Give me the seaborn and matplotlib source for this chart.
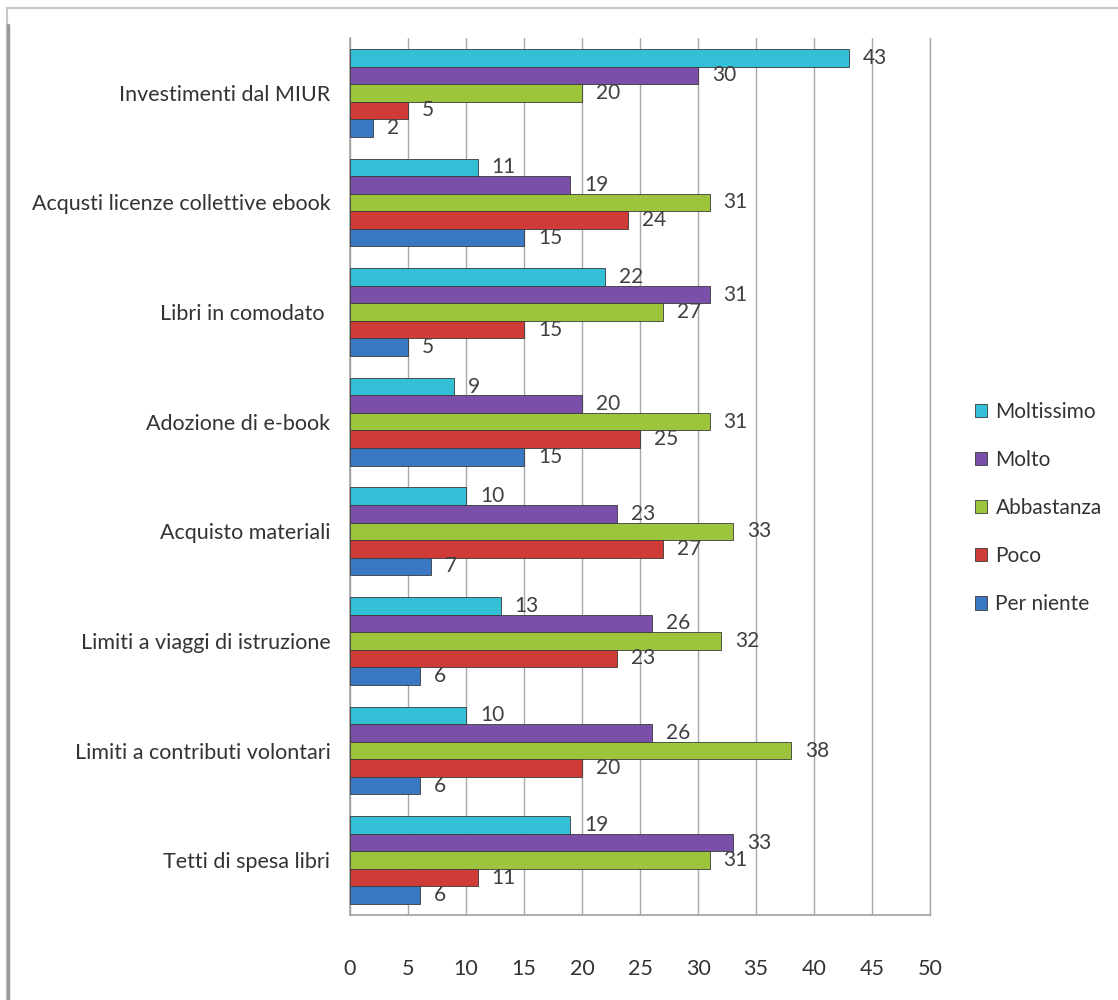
import pandas as pd
import numpy as np
import matplotlib.pyplot as plt
import seaborn as sns
from matplotlib.patches import Rectangle

categories = ["Investimenti dal MIUR", "Acqusti licenze collettive ebook", "Libri in comodato ",
              "Adozione di e-book", "Acquisto materiali", "Limiti a viaggi di istruzione",
              "Limiti a contributi volontari", "Tetti di spesa libri"]
levels = ["Moltissimo", "Molto", "Abbastanza", "Poco", "Per niente"]
moltissimo = [43, 11, 22, 9, 10, 13, 10, 19]
molto = [30, 19, 31, 20, 23, 26, 26, 33]
abbastanza = [20, 31, 27, 31, 33, 32, 38, 31]
poco = [5, 24, 15, 25, 27, 23, 20, 11]
per_niente = [2, 15, 5, 15, 7, 6, 6, 6]
x_ticks = [0, 5, 10, 15, 20, 25, 30, 35, 40, 45, 50]

palette = ["#33bfd6", "#7a4fa8", "#9cc43c", "#cf3b37", "#3b78c4"]

# long-form table for seaborn
series = [moltissimo, molto, abbastanza, poco, per_niente]
df = pd.DataFrame({
    "categoria": categories * len(levels),
    "livello": np.repeat(levels, len(categories)),
    "valore": np.concatenate(series),
})

sns.set_style("white")
plt.rcParams["font.family"] = ["Lato", "DejaVu Sans"]

fig = plt.figure(figsize=(11.18, 10), dpi=100)
ax = fig.add_axes([0.313, 0.085, 0.519, 0.877])

sns.barplot(data=df, y="categoria", x="valore", hue="livello", hue_order=levels,
            order=categories, palette=palette, orient="h", width=0.8,
            saturation=1, edgecolor="#3a3a3a", linewidth=0.6, ax=ax, zorder=3)

for cont in ax.containers:
    ax.bar_label(cont, padding=10, fontsize=15, color="#404040")

ax.set_xlim(0, 50)
ax.set_xticks(x_ticks)
ax.set_ylim(len(categories) - 0.5, -0.5)
ax.set_xlabel("")
ax.set_ylabel("")
ax.grid(axis="x", color="#a8a8a8", linewidth=1, zorder=0)
ax.set_axisbelow(True)

# y ticks at the boundaries between groups, labels centered
ax.set_yticks(np.arange(len(categories)))
ax.set_yticklabels(categories)
ax.set_yticks(np.arange(-0.5, len(categories)), minor=True)
ax.tick_params(axis="y", which="major", length=0, pad=14, labelsize=15.5, labelcolor="#333333")
ax.tick_params(axis="y", which="minor", length=6, color="#999999", width=1)
ax.tick_params(axis="x", length=6, color="#999999", pad=26, labelsize=15.5, labelcolor="#333333")

ax.spines["top"].set_visible(False)
ax.spines["right"].set_color("#a8a8a8")
ax.spines["right"].set_linewidth(1)
for s in ["left", "bottom"]:
    ax.spines[s].set_color("#a0a0a0")
    ax.spines[s].set_linewidth(1.2)

leg = ax.legend(loc="center left", bbox_to_anchor=(0.855, 0.492), bbox_transform=fig.transFigure,
                frameon=False, fontsize=15, handlelength=0.6, handleheight=0.6,
                labelspacing=1.35, handletextpad=0.4)
for t in leg.get_texts():
    t.set_color("#333333")

# outer chart frame
fig.patches.append(Rectangle((0.006, -0.01), 1.0, 1.002, transform=fig.transFigure,
                             fill=False, edgecolor="#c8c8c8", linewidth=1.5))
fig.lines.append(plt.Line2D([0.007, 0.007], [0.0, 0.975], transform=fig.transFigure,
                            color="#9a9a9a", linewidth=2.5))

plt.savefig("out.png", dpi=100)
